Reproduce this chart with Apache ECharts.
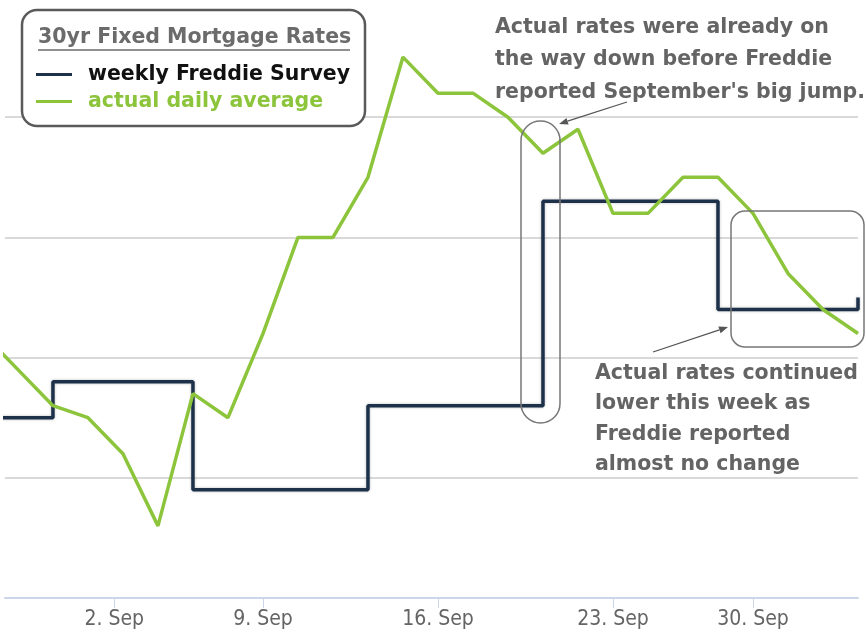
<!DOCTYPE html>
<html>
<head>
<meta charset="utf-8">
<script src="https://cdn.jsdelivr.net/npm/echarts@6/dist/echarts.min.js"></script>
<style>
  html, body { margin: 0; padding: 0; background: #fff; }
  #main { width: 866px; height: 633px; }
</style>
</head>
<body>
<div id="main"></div>
<script>
// business days shown on the (ordinal) x axis
var days = ['2019-08-27','2019-08-28','2019-08-29','2019-08-30','2019-09-03','2019-09-04','2019-09-05',
    '2019-09-06','2019-09-09','2019-09-10','2019-09-11','2019-09-12','2019-09-13','2019-09-16',
    '2019-09-17','2019-09-18','2019-09-19','2019-09-20','2019-09-23','2019-09-24','2019-09-25',
    '2019-09-26','2019-09-30','2019-10-01','2019-10-02','2019-10-03'];
var dailyRate = [3.62, 3.59, 3.56, 3.55, 3.52, 3.46, 3.57,
    3.55, 3.62, 3.70, 3.70, 3.75, 3.85, 3.82,
    3.82, 3.80, 3.77, 3.79, 3.72, 3.72, 3.75,
    3.75, 3.72, 3.67, 3.64, 3.62];

// weekly Freddie Mac survey releases
var freddieDates = ['2019-08-22','2019-08-29','2019-09-05','2019-09-12','2019-09-19','2019-09-26','2019-10-03'];
var freddieRate = [3.55, 3.58, 3.49, 3.56, 3.73, 3.64, 3.65];

var tickDates = ['2019-09-02','2019-09-09','2019-09-16','2019-09-23','2019-09-30'];
var tickLabels = ['2. Sep','9. Sep','16. Sep','23. Sep','30. Sep'];

var GREEN = '#8cc43c', NAVY = '#1d324a', TXT = '#646464';
var FONT = '"DejaVu Sans", sans-serif';

function dayNum(s) { return Date.parse(s) / 86400000; }

// ordinal position of a calendar date (interpolated between business days)
function ordinalPos(d) {
    var t = dayNum(d);
    for (var i = 0; i < days.length - 1; i++) {
        var a = dayNum(days[i]), b = dayNum(days[i + 1]);
        if (t >= a && t <= b) return i + (t - a) / (b - a);
    }
    return days.length - 1;
}

var dailyData = dailyRate.map(function (v, i) { return [i, v]; });
var freddieData = days.map(function (d, i) {
    var v = null;
    freddieDates.forEach(function (fd, j) { if (fd <= d) v = freddieRate[j]; });
    return [i, v];
});
var tickPos = tickDates.map(ordinalPos);

var myChart = echarts.init(document.getElementById('main'));

function arrow(x1, y1, x2, y2) {
    var ang = Math.atan2(y2 - y1, x2 - x1), L = 9, W = 3.5;
    var bx = x2 - L * Math.cos(ang), by = y2 - L * Math.sin(ang);
    var px = -Math.sin(ang) * W, py = Math.cos(ang) * W;
    return [{
        type: 'line', z: 100,
        shape: {x1: x1, y1: y1, x2: bx, y2: by},
        style: {stroke: '#555', lineWidth: 1.3}
    }, {
        type: 'polygon', z: 100,
        shape: {points: [[x2, y2], [bx + px, by + py], [bx - px, by - py]]},
        style: {fill: '#555'}
    }];
}

var option = {
    backgroundColor: '#fff',
    animation: false,
    grid: {left: 5, right: 8, top: -3, height: 601, outerBoundsMode: 'none'},
    legend: {
        orient: 'vertical',
        left: 36, top: 63,
        padding: 0,
        itemWidth: 36, itemHeight: 3, itemGap: 4,
        icon: 'rect',
        selectedMode: false,
        textStyle: {fontFamily: FONT, fontWeight: 'bold', fontSize: 20.5, lineHeight: 23, padding: [0, 0, 0, 11]},
        data: [
            {name: 'weekly Freddie Survey', textStyle: {color: '#111'}},
            {name: 'actual daily average', textStyle: {color: GREEN}}
        ],
        z: 60
    },
    xAxis: {
        type: 'value',
        min: 0.63, max: days.length - 1,
        axisLine: {lineStyle: {color: '#ccd6eb', width: 2}},
        axisTick: {show: true, length: 10, customValues: tickPos, lineStyle: {color: '#ccd6eb', width: 1}},
        axisLabel: {
            customValues: tickPos,
            margin: 11,
            color: TXT,
            fontFamily: '"DejaVu Sans Condensed", "DejaVu Sans", sans-serif',
            fontSize: 21,
            formatter: function (v) {
                for (var i = 0; i < tickPos.length; i++) {
                    if (Math.abs(tickPos[i] - v) < 1e-6) return tickLabels[i];
                }
                return '';
            }
        },
        splitLine: {show: false}
    },
    yAxis: {
        type: 'value',
        min: 3.4, max: 3.9, interval: 0.1,
        axisLine: {show: false},
        axisTick: {show: false},
        axisLabel: {show: false},
        splitLine: {lineStyle: {color: '#d9d9d9', width: 2}}
    },
    series: [{
        name: 'weekly Freddie Survey',
        type: 'line',
        step: 'end',
        data: freddieData,
        symbol: 'none',
        color: NAVY,
        lineStyle: {color: NAVY, width: 3.5, shadowColor: 'rgba(0,0,0,0.25)', shadowBlur: 3},
        z: 3
    }, {
        name: 'actual daily average',
        type: 'line',
        data: dailyData,
        symbol: 'none',
        color: GREEN,
        lineStyle: {color: GREEN, width: 3.5},
        z: 4
    }],
    graphic: [
        // legend frame
        {type: 'rect', z: 50, shape: {x: 22, y: 10, width: 343, height: 116, r: 15},
            style: {fill: '#fff', stroke: '#5a5a5a', lineWidth: 2.5}},
        {type: 'text', z: 55, style: {x: 38, y: 38, text: '30yr Fixed Mortgage Rates',
            font: 'bold 20.5px ' + FONT, fill: '#6b6b6b', verticalAlign: 'middle'}},
        {type: 'line', z: 55, shape: {x1: 38, y1: 50, x2: 350, y2: 50},
            style: {stroke: '#6b6b6b', lineWidth: 1.5}},
        // annotation 1
        {type: 'text', z: 100, style: {x: 495, y: 11, text: "Actual rates were already on\nthe way down before Freddie\nreported September's big jump.",
            font: 'bold 20.5px ' + FONT, fill: TXT, lineHeight: 32.5, verticalAlign: 'top'}},
        {type: 'rect', z: 100, shape: {x: 521, y: 121, width: 39, height: 302, r: 19.5},
            style: {fill: 'none', stroke: '#777', lineWidth: 1.5}},
        // annotation 2
        {type: 'text', z: 100, style: {x: 595, y: 358, text: 'Actual rates continued\nlower this week as\nFreddie reported\nalmost no change',
            font: 'bold 20.5px ' + FONT, fill: TXT, lineHeight: 30.5, verticalAlign: 'top'}},
        {type: 'rect', z: 100, shape: {x: 731, y: 211, width: 133, height: 136, r: 14},
            style: {fill: 'none', stroke: '#777', lineWidth: 1.5}}
    ].concat(arrow(627, 102, 559, 124)).concat(arrow(653, 352, 728, 327))
};

myChart.setOption(option);
</script>
</body>
</html>
